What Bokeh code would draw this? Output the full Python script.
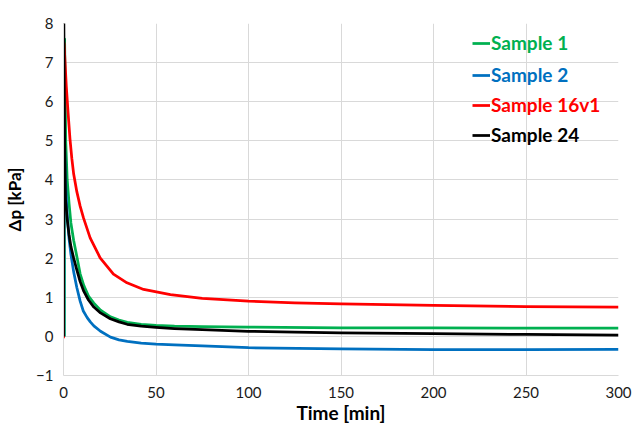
from bokeh.plotting import figure
from bokeh.models import Range1d, Legend, LegendItem, FixedTicker
from bokeh.embed import file_html
from bokeh.resources import INLINE

# Sample 1 (green)
t_s1 = [0.5, 0.6, 1.2, 2.0, 3.0, 4.0, 5.5, 7.4, 9.0, 11.0, 13.5, 16.4, 20.0, 25.4, 30.0, 34.5, 42.0,
        50, 60, 75, 100, 150, 200, 250, 300]
dp_s1 = [0.0, 7.6, 5.0, 4.0, 3.4, 2.9, 2.45, 2.0, 1.6, 1.3, 1.03, 0.85, 0.67, 0.5, 0.42, 0.36, 0.31,
         0.28, 0.26, 0.25, 0.24, 0.22, 0.22, 0.21, 0.21]

# Sample 2 (blue)
t_s2 = [0.2, 0.4, 1.0, 2.0, 3.0, 4.0, 5.5, 7.2, 9.0, 10.7, 12.8, 14.5, 16.4, 20.0, 25.4, 30.0, 34.5, 42.0,
        50, 60, 75, 100, 150, 200, 250, 300]
dp_s2 = [0.0, 5.2, 4.0, 3.1, 2.5, 2.1, 1.65, 1.25, 0.9, 0.65, 0.48, 0.37, 0.27, 0.13, -0.02, -0.09, -0.13, -0.17,
         -0.20, -0.22, -0.24, -0.29, -0.32, -0.34, -0.34, -0.33]

# Sample 16v1 (red)
t_s16 = [0.0, 0.3, 1.5, 2.5, 3.5, 4.5, 5.5, 7.2, 9.0, 10.8, 14.4, 19.8, 27.0, 34.3, 43.3, 57.8,
         75, 100, 125, 150, 200, 250, 300]
dp_s16 = [-0.05, 7.5, 6.4, 5.7, 5.05, 4.55, 4.15, 3.7, 3.33, 3.03, 2.52, 2.01, 1.59, 1.37, 1.2, 1.07,
          0.97, 0.9, 0.86, 0.83, 0.79, 0.76, 0.75]

# Sample 24 (black)
t_s24 = [0.0, 0.2, 0.6, 1.1, 2.0, 3.0, 4.0, 5.5, 7.2, 9.0, 11.0, 13.5, 16.4, 20.0, 25.3, 30.0, 34.4, 42.0,
         50, 60, 75, 100, 125, 150, 200, 250, 300]
dp_s24 = [0.0, 8.0, 5.0, 3.5, 3.0, 2.6, 2.3, 2.0, 1.7, 1.4, 1.15, 0.93, 0.75, 0.6, 0.45, 0.37, 0.31, 0.26,
          0.23, 0.2, 0.17, 0.13, 0.11, 0.09, 0.07, 0.05, 0.03]

series_names = ["Sample 1", "Sample 2", "Sample 16v1", "Sample 24"]
series_colors = ["#00B050", "#0070C0", "#FF0000", "#000000"]
x_ticks = [0, 50, 100, 150, 200, 250, 300]
y_ticks = [-1, 0, 1, 2, 3, 4, 5, 6, 7, 8]

FONT = "Lato"

p = figure(width=634, height=427, output_backend="svg", toolbar_location=None,
           x_range=Range1d(0, 300), y_range=Range1d(-1, 8),
           min_border_left=63, min_border_right=16, min_border_top=23, min_border_bottom=52)
p.outline_line_color = None
p.background_fill_color = "white"
p.border_fill_color = "white"

for ax in (p.xaxis[0], p.yaxis[0]):
    ax.axis_line_color = "#D9D9D9"
    ax.major_tick_line_color = None
    ax.minor_tick_line_color = None
    ax.major_label_text_font = FONT
    ax.major_label_text_font_size = "15px"
    ax.major_label_text_color = "#1a1a1a"
    ax.axis_label_text_font = FONT
    ax.axis_label_text_font_style = "bold"
    ax.axis_label_text_color = "#000000"

p.xaxis.ticker = FixedTicker(ticks=x_ticks)
p.yaxis.ticker = FixedTicker(ticks=y_ticks)
p.xaxis.major_label_standoff = 5
p.yaxis.major_label_standoff = 4
p.xaxis.axis_label = "Time [min]"
p.xaxis.axis_label_text_font_size = "19px"
p.xaxis.axis_label_standoff = 0
p.yaxis.axis_label = "Δp [kPa]"
p.yaxis.axis_label_text_font_size = "17px"
p.yaxis.axis_label_standoff = 8

p.xgrid.grid_line_color = "#D9D9D9"
p.ygrid.grid_line_color = "#D9D9D9"
p.xgrid.grid_line_width = 1
p.ygrid.grid_line_width = 1

xs = [t_s1, t_s2, t_s16, t_s24]
ys = [dp_s1, dp_s2, dp_s16, dp_s24]
renderers = []
for x, y, c in zip(xs, ys, series_colors):
    renderers.append(p.line(x, y, line_color=c, line_width=2.75, line_join="round"))

# Legend: one per item so each label can take its series colour
bottoms = [321, 289, 259, 229]
for name, c, r, b in zip(series_names, series_colors, renderers, bottoms):
    leg = Legend(items=[LegendItem(label=name, renderers=[r])], location=(409, b),
                 label_text_color=c, label_text_font=FONT, label_text_font_style="bold",
                 label_text_font_size="19px", glyph_width=18, glyph_height=22,
                 label_standoff=1, padding=0, margin=0, spacing=0,
                 border_line_alpha=0, background_fill_alpha=0)
    p.add_layout(leg)

open("out.html", "w").write(file_html(p, INLINE))
